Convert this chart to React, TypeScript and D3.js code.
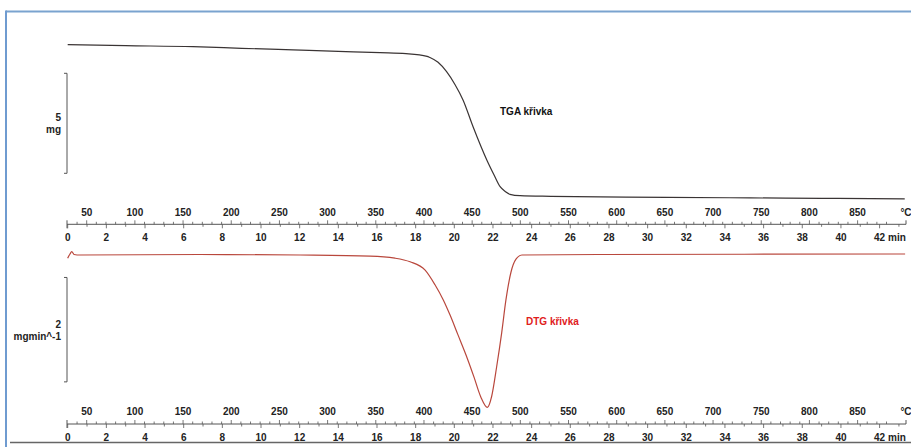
import React from "react";
import * as d3 from "d3";

// TGA: time (min) vs mass (mg)
const tgaTime = [0, 3, 6.48, 9, 11.66, 14, 16.16, 17.5, 18.59, 18.74, 19.16, 19.6, 20.04, 20.45, 20.97, 21.68, 22.05, 22.37, 22.65, 22.88, 23.4, 25, 27.54, 31, 35.3, 39, 43.3];
const tgaMass = [10, 9.95, 9.9, 9.82, 9.74, 9.67, 9.6, 9.55, 9.42, 9.36, 9.12, 8.65, 8.0, 7.24, 5.9, 4.24, 3.5, 2.9, 2.65, 2.52, 2.45, 2.42, 2.39, 2.37, 2.34, 2.32, 2.29];

// DTG: time (min) vs mass rate (mg/min)
const dtgTime = [0, 0.12, 0.21, 0.33, 0.64, 6.85, 12.02, 15.64, 16.93, 17.71, 18.49, 19.0, 19.43, 19.78, 20.19, 20.6, 21.01, 21.37, 21.71, 21.93, 22.19, 22.45, 22.67, 22.93, 23.19, 23.5, 27.54, 35, 43.32];
const dtgRate = [-0.07, 0.01, 0.055, 0, -0.01, 0, -0.01, -0.03, -0.07, -0.14, -0.3, -0.58, -0.87, -1.16, -1.54, -1.92, -2.34, -2.73, -2.93, -2.72, -2.15, -1.5, -0.87, -0.34, -0.09, -0.01, 0, 0.005, 0.01];

// Axis ticks
const tempLabels = [50, 100, 150, 200, 250, 300, 350, 400, 450, 500, 550, 600, 650, 700, 750, 800, 850];
const timeLabels = [0, 2, 4, 6, 8, 10, 12, 14, 16, 18, 20, 22, 24, 26, 28, 30, 32, 34, 36, 38, 40, 42];
const tempMinor = d3.range(40, 890, 10);
const timeMinor = d3.range(0, 44, 1);

// scale bars
const tgaBar = [8.57, 3.57];
const tgaBarLabel = ["5", "mg"];
const dtgBar = [-0.44, -2.44];
const dtgBarLabel = ["2", "mgmin^-1"];

const W = 911;
const H = 447;

const xTime = d3.scaleLinear().domain([0, 42]).range([67.7, 879.6]);
const xTemp = d3.scaleLinear().domain([50, 850]).range([86.7, 857.6]);
const yTga = d3.scaleLinear().domain([10, 2]).range([44.7, 204.7]);
const yDtg = d3.scaleLinear().domain([0, -3]).range([254.5, 411.1]);

const font = "'Liberation Sans', Arial, sans-serif";

function DualAxis({ y }: { y: number }) {
  const x0 = 67;
  const x1 = 906;
  return (
    <g fontFamily={font} fontWeight="bold" fontSize={10} fill="#222">
      <line x1={x0} x2={x1} y1={y} y2={y} stroke="#555" strokeWidth={1} />
      <line x1={x0} x2={x0} y1={y - 4} y2={y + 4} stroke="#555" />
      <line x1={x1} x2={x1} y1={y - 4} y2={y} stroke="#555" />
      {tempMinor.filter((t) => xTemp(t) > x0 && xTemp(t) < x1).map((t) => (
        <line key={"tm" + t} x1={xTemp(t)} x2={xTemp(t)} y1={y - (t % 50 === 0 ? 4 : 2.5)} y2={y} stroke="#555" strokeWidth={0.8} />
      ))}
      {timeMinor.filter((t) => xTime(t) < x1).map((t) => (
        <line key={"nm" + t} x1={xTime(t)} x2={xTime(t)} y1={y} y2={y + (t % 2 === 0 ? 4 : 2.5)} stroke="#555" strokeWidth={0.8} />
      ))}
      {tempLabels.map((t) => (
        <text key={"tl" + t} x={xTemp(t)} y={y - 8.6} textAnchor="middle">{t}</text>
      ))}
      <text x={906} y={y - 8.6} textAnchor="middle">°C</text>
      {timeLabels.map((t) => (
        <text key={"nl" + t} x={xTime(t)} y={y + 16.5} textAnchor="middle">{t}</text>
      ))}
      <text x={888} y={y + 16.5} textAnchor="start">min</text>
    </g>
  );
}

function ScaleBar({ y0, y1, labels }: { y0: number; y1: number; labels: string[] }) {
  const x = 67;
  const mid = (y0 + y1) / 2;
  return (
    <g>
      <path d={`M${x - 3},${y0} H${x} V${y1} H${x - 3}`} fill="none" stroke="#555" strokeWidth={1} />
      <g fontFamily={font} fontWeight="bold" fontSize={10} fill="#222" textAnchor="end">
        <text x={61} y={mid - 2}>{labels[0]}</text>
        <text x={61} y={mid + 10}>{labels[1]}</text>
      </g>
    </g>
  );
}

export default function App() {
  const tgaLine = d3
    .line<number>()
    .x((_, i) => xTime(tgaTime[i]))
    .y((d) => yTga(d))
    .curve(d3.curveMonotoneX)(tgaMass);
  const dtgLine = d3
    .line<number>()
    .x((_, i) => xTime(dtgTime[i]))
    .y((d) => yDtg(d))
    .curve(d3.curveMonotoneX)(dtgRate);

  return (
    <svg width={W} height={H} style={{ position: "absolute", left: 0, top: 0, background: "#fff" }}>
      <rect x={0} y={0} width={W} height={H} fill="#fff" />
      {/* frame */}
      <line x1={6} x2={W} y1={11.5} y2={11.5} stroke="#7aa3cf" strokeWidth={2} />
      <line x1={6} x2={6} y1={10.5} y2={H} stroke="#6f9bd0" strokeWidth={2} />
      <line x1={10} x2={W} y1={442.5} y2={442.5} stroke="#666" strokeWidth={1.5} />

      {/* TGA panel */}
      <path d={tgaLine || ""} fill="none" stroke="#3a3434" strokeWidth={1.2} />
      <ScaleBar y0={yTga(tgaBar[0])} y1={yTga(tgaBar[1])} labels={tgaBarLabel} />
      <text x={500} y={114.5} fontFamily={font} fontWeight="bold" fontSize={10} fill="#111">TGA křivka</text>
      <DualAxis y={224.3} />

      {/* DTG panel */}
      <path d={dtgLine || ""} fill="none" stroke="#b9473c" strokeWidth={1.2} />
      <ScaleBar y0={yDtg(dtgBar[0])} y1={yDtg(dtgBar[1])} labels={dtgBarLabel} />
      <text x={526} y={324.5} fontFamily={font} fontWeight="bold" fontSize={10} fill="#e0201c">DTG křivka</text>
      <DualAxis y={424} />
    </svg>
  );
}
